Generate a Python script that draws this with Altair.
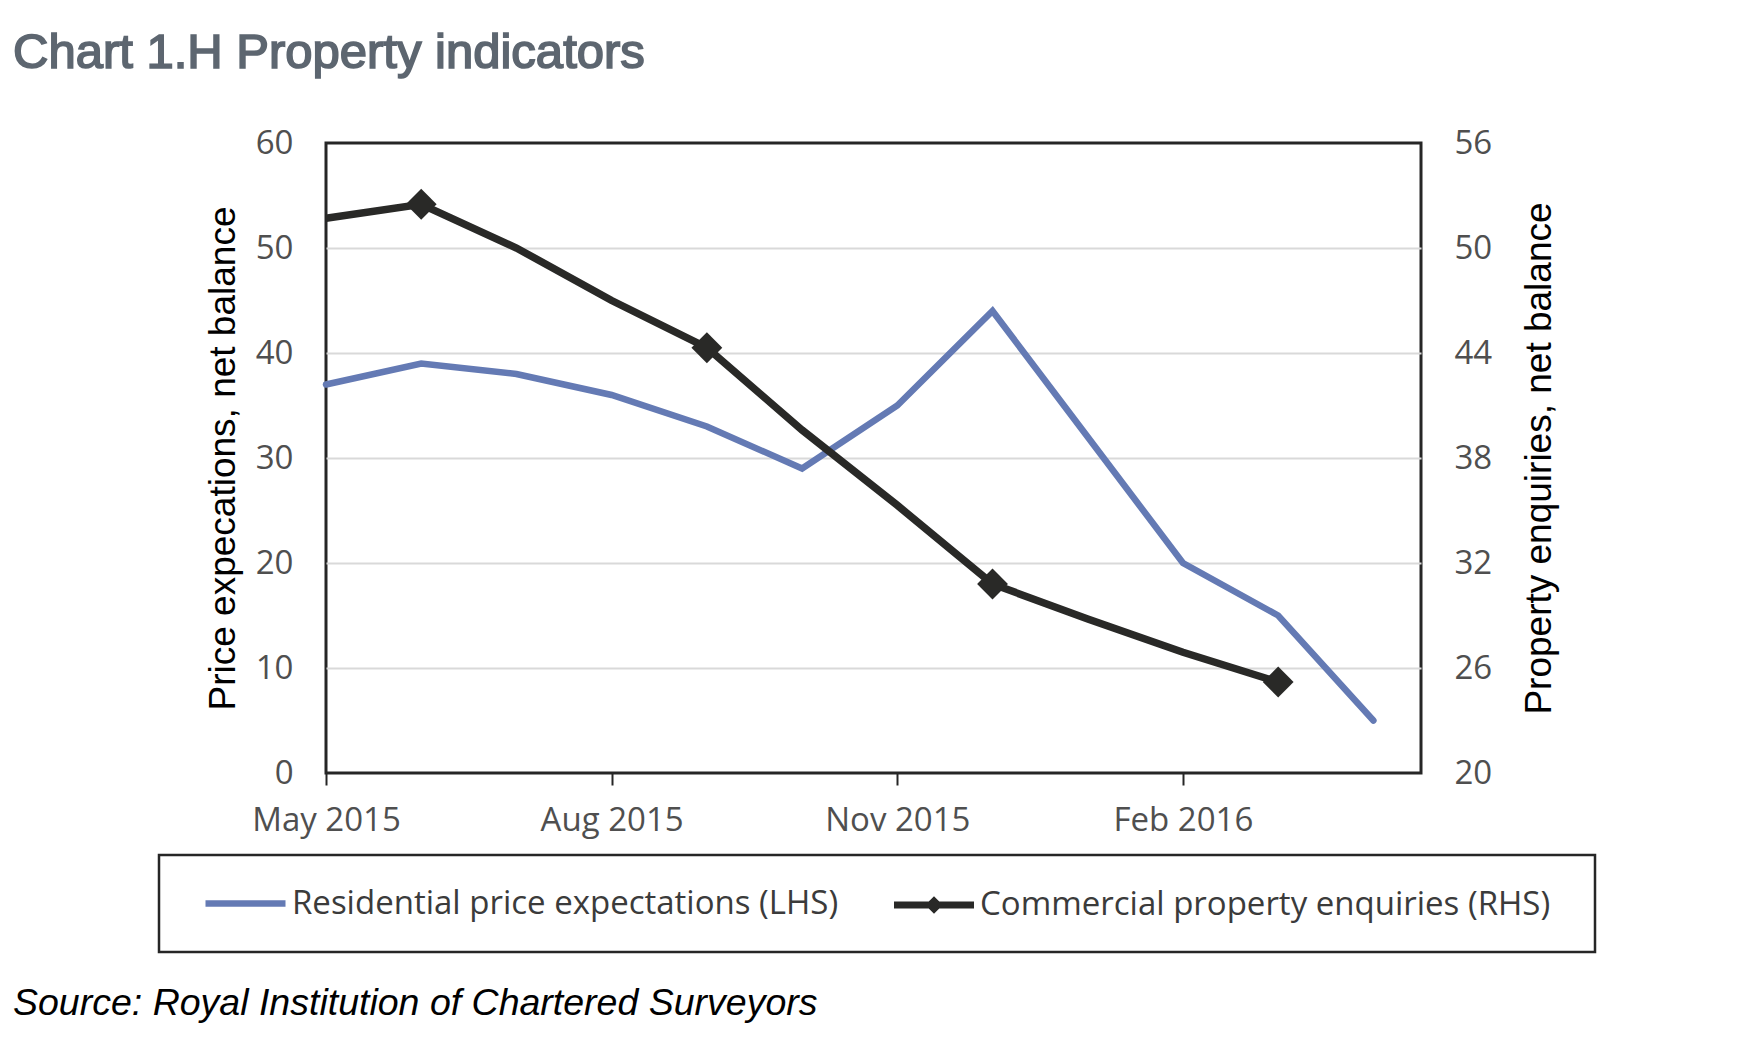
import json
import altair as alt
import pandas as pd

# ---------------- data ----------------
months = ["May 2015", "Jun 2015", "Jul 2015", "Aug 2015", "Sep 2015", "Oct 2015",
          "Nov 2015", "Dec 2015", "Jan 2016", "Feb 2016", "Mar 2016", "Apr 2016"]
residential = [37, 39, 38, 36, 33, 29, 35, 44, 32, 20, 15, 5]
commercial = [51.7, 52.5, 50.0, 47.0, 44.3, 39.6, 35.3, 30.8, 28.8, 26.9, 25.2]
marker_months = ["Jun 2015", "Sep 2015", "Dec 2015", "Mar 2016"]
x_tick_labels = ["May 2015", "Aug 2015", "Nov 2015", "Feb 2016"]
left_ticks = [0, 10, 20, 30, 40, 50, 60]
right_ticks = [20, 26, 32, 38, 44, 50, 56]

res_label = "Residential price expectations (LHS)"
com_label = "Commercial property enquiries (RHS)"
title_text = "Chart 1.H Property indicators"
source_text = "Source: Royal Institution of Chartered Surveyors"
left_title = "Price expecations, net balance"
right_title = "Property enquiries, net balance"

BLUE = "#647ab4"
BLACK = "#292927"
TICK_GREY = "#4f4f4f"

res_df = pd.DataFrame({"month": months, "idx": list(range(len(months))),
                       "value": residential, "series": res_label})
com_df = pd.DataFrame({"month": months[:len(commercial)], "idx": list(range(len(commercial))),
                       "value": commercial, "series": com_label})
mk_df = com_df[com_df["month"].isin(marker_months)]

x_tick_values = [months.index(m) for m in x_tick_labels]
label_expr = f"{json.dumps(months)}[round(datum.value)]"

W, H = 1095, 630

x_enc = alt.X(
    "idx:Q",
    scale=alt.Scale(domain=[0, 11.5], nice=False, zero=False),
    axis=alt.Axis(values=x_tick_values, labelExpr=label_expr, title=None, grid=False,
                  domain=False, ticks=True, tickSize=12, tickWidth=2, tickColor="#262626",
                  labelPadding=19, labelFont="Open Sans", labelFontSize=33,
                  labelColor=TICK_GREY, labelAlign="center"),
)

y_left = alt.Y(
    "value:Q",
    scale=alt.Scale(domain=[0, 60], nice=False, zero=False),
    axis=alt.Axis(values=left_ticks, orient="left", title=left_title, grid=True,
                  gridColor=alt.condition(
                      f"datum.value === {left_ticks[0]} || datum.value === {left_ticks[-1]}",
                      alt.value("transparent"), alt.value("#d9d9d9")),
                  gridWidth=2, domain=False, ticks=False, tickSize=0,
                  labelPadding=33, labelFont="Open Sans", labelFontSize=33,
                  labelColor=TICK_GREY, titleFont="Liberation Sans", titleFontSize=37,
                  titleFontWeight="normal", titleColor="#000000", titleAngle=270,
                  titleX=-103, titleY=315, titleAlign="center", titleBaseline="middle"),
)

y_right = alt.Y(
    "value:Q",
    scale=alt.Scale(domain=[20, 56], nice=False, zero=False),
    axis=alt.Axis(values=right_ticks, orient="right", title=right_title, grid=False,
                  domain=False, ticks=False, tickSize=0, labelPadding=33,
                  labelFont="Open Sans", labelFontSize=33, labelColor=TICK_GREY,
                  titleFont="Liberation Sans", titleFontSize=37, titleFontWeight="normal",
                  titleColor="#000000", titleAngle=270, titleX=118, titleY=315,
                  titleAlign="center", titleBaseline="middle"),
)

legend_common = dict(orient="none", direction="horizontal", title=None, symbolSize=6400,
                     labelFont="Open Sans", labelFontSize=33, labelColor="#3b3b3b",
                     labelLimit=2000, padding=0)

blue_line = alt.Chart(res_df).mark_line(strokeWidth=6.5, strokeCap="round").encode(
    x=x_enc, y=y_left,
    color=alt.Color("series:N", scale=alt.Scale(domain=[res_label], range=[BLUE]),
                    legend=alt.Legend(legendX=-124, legendY=717, symbolType="stroke",
                                      symbolStrokeWidth=6.5, labelOffset=3,
                                      **legend_common)),
)

black_line = alt.Chart(com_df).mark_line(color=BLACK, strokeWidth=7.5).encode(
    x=x_enc, y=y_right
)

black_path = "M-1,-0.09L1,-0.09L1,0.09L-1,0.09Z M0,-0.22L0.22,0L0,0.22L-0.22,0Z"

markers = alt.Chart(mk_df).mark_point(shape="diamond", filled=True, size=950, opacity=1).encode(
    x=x_enc,
    y=y_right,
    fill=alt.Fill("series:N", scale=alt.Scale(domain=[com_label], range=[BLACK]),
                  legend=alt.Legend(legendX=568, legendY=722, symbolType=black_path,
                                    symbolStrokeWidth=0, labelOffset=6, **legend_common)),
)

box = alt.Chart(alt.Data(values=[{"a": 1}])).mark_rect(
    fillOpacity=0, stroke="#262626", strokeWidth=2.5
).encode(x=alt.value(-167), x2=alt.value(1269), y=alt.value(712), y2=alt.value(809))

title_layer = alt.Chart(alt.Data(values=[{"t": title_text}])).mark_text(
    align="left", baseline="alphabetic", font="Liberation Sans", fontSize=49,
    color="#5d6670", stroke="#5d6670", strokeWidth=1.7
).encode(x=alt.value(-313), y=alt.value(-75), text="t:N")

source_layer = alt.Chart(alt.Data(values=[{"t": source_text}])).mark_text(
    align="left", baseline="alphabetic", font="Liberation Sans", fontSize=37.5,
    fontStyle="italic", color="#000000"
).encode(x=alt.value(-313), y=alt.value(872), text="t:N")

chart = alt.layer(
    box, title_layer, source_layer, blue_line, alt.layer(black_line, markers)
).resolve_scale(y="independent").properties(
    width=W, height=H,
    autosize=alt.AutoSizeParams(type="none"),
    padding={"left": 318, "top": 135, "right": 300, "bottom": 250},
).configure_view(stroke="#262626", strokeWidth=3)

chart.save("out.html", embed_options={"renderer": "svg", "actions": False})
